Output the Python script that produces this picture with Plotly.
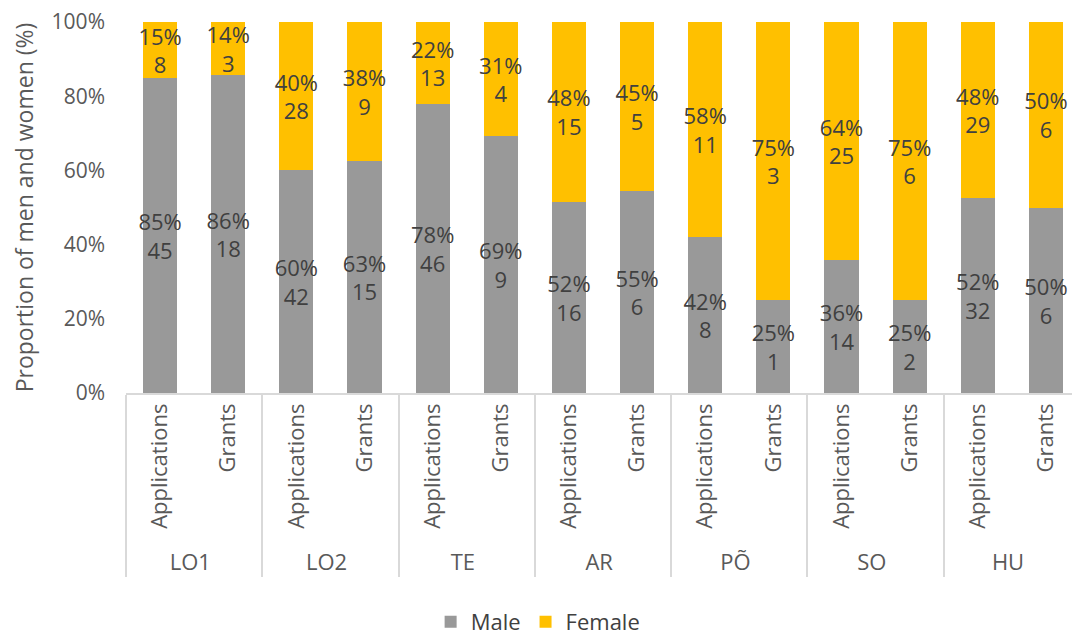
import math
import plotly.graph_objects as go

groups = ["LO1", "LO2", "TE", "AR", "PÕ", "SO", "HU"]
kinds = ["Applications", "Grants"]
male_counts = [45, 18, 42, 15, 46, 9, 16, 6, 8, 1, 14, 2, 32, 6]
female_counts = [8, 3, 28, 9, 13, 4, 15, 5, 11, 3, 25, 6, 29, 6]

x_groups = [g for g in groups for _ in kinds]
x_kinds = [k for _ in groups for k in kinds]

def pct(a, b):
    return int(math.floor(100.0 * a / (a + b) + 0.5))

male_text = [f"{pct(m, f)}%<br>{m}" for m, f in zip(male_counts, female_counts)]
female_text = [f"{pct(f, m)}%<br>{f}" for m, f in zip(male_counts, female_counts)]

FONT = "Open Sans"
fig = go.Figure()
fig.add_trace(go.Bar(
    x=[x_groups, x_kinds], y=male_counts, name="Male",
    marker=dict(color="#999999", line=dict(width=0)),
    text=male_text, textposition="inside", insidetextanchor="middle",
    constraintext="none", textangle=0,
    textfont=dict(family=FONT, size=22, color="#404040"),
))
fig.add_trace(go.Bar(
    x=[x_groups, x_kinds], y=female_counts, name="Female",
    marker=dict(color="#FFC000", line=dict(width=0)),
    text=female_text, textposition="inside", insidetextanchor="middle",
    constraintext="none", textangle=0,
    textfont=dict(family=FONT, size=22, color="#404040"),
))

fig.update_layout(
    barmode="stack", barnorm="percent", bargap=0.5,
    width=1072, height=627,
    margin=dict(l=118, r=0, t=14, b=242, autoexpand=False),
    paper_bgcolor="white", plot_bgcolor="white",
    font=dict(family=FONT, size=21, color="#595959"),
    showlegend=True,
    legend=dict(orientation="h", x=0.432, xanchor="center", y=-0.617, yanchor="middle",
                font=dict(size=22, color="#404040"), traceorder="normal", itemwidth=30),
    uniformtext=dict(mode=False),
)
fig.update_yaxes(
    range=[0, 100], dtick=20, ticksuffix="%", showgrid=False, zeroline=False,
    showline=False, automargin=False, ticklabelstandoff=20, ticklabeloverflow="allow",
    tickfont=dict(size=21, color="#595959"),
    title=dict(text="Proportion of men and women (%)", font=dict(size=23, color="#595959"), standoff=22),
)
fig.update_xaxes(
    tickangle=-90, showline=True, linecolor="#d9d9d9", linewidth=1.5,
    showdividers=True, dividercolor="#d9d9d9", dividerwidth=1.5,
    automargin=False,
    tickfont=dict(size=22, color="#595959"),
)
fig.write_html("out.html")
